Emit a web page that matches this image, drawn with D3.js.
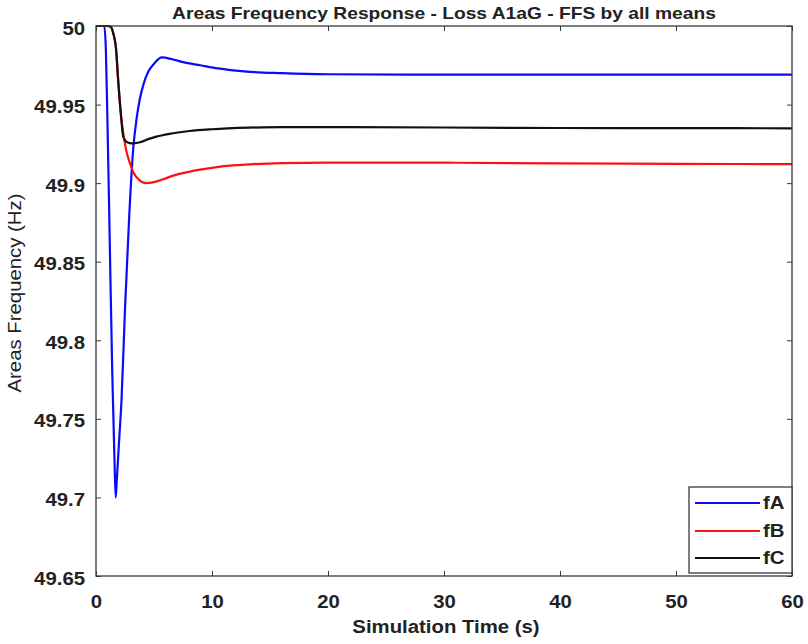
<!DOCTYPE html>
<html>
<head>
<meta charset="utf-8">
<script src="https://cdn.jsdelivr.net/npm/d3@7"></script>
<style>
  html, body { margin: 0; padding: 0; background: #fff; }
  svg text { font-family: "Liberation Sans", Arial, Helvetica, sans-serif; fill: #222; }
</style>
</head>
<body>
<svg id="chart" width="808" height="644"></svg>
<script>
// ---------- data ----------
const chartTitle = "Areas Frequency Response - Loss A1aG - FFS by all means";
const xLabel = "Simulation Time (s)";
const yLabel = "Areas Frequency (Hz)";

const xTickValues = [0, 10, 20, 30, 40, 50, 60];
const xTickLabels = ["0", "10", "20", "30", "40", "50", "60"];
const yTickValues = [49.65, 49.7, 49.75, 49.8, 49.85, 49.9, 49.95, 50];
const yTickLabels = ["49.65", "49.7", "49.75", "49.8", "49.85", "49.9", "49.95", "50"];

const seriesNames = ["fA", "fB", "fC"];
const seriesColors = ["#0a0aff", "#ff1010", "#111111"];

const timeA = [0, 0.72, 0.85, 1.0, 1.2, 1.4, 1.6, 1.7, 1.8, 2.0, 2.2, 2.5, 2.87, 3.21, 3.5, 3.79, 4.1, 4.51, 5.0, 5.68, 6.5, 7.5, 9, 10.5, 13, 16, 20, 30, 40, 50, 60];
const fA =    [50, 50, 49.985, 49.935, 49.857, 49.78, 49.722, 49.700, 49.712, 49.737, 49.762, 49.82, 49.880, 49.922, 49.941, 49.954, 49.963, 49.971, 49.976, 49.980, 49.979, 49.977, 49.975, 49.973, 49.971, 49.970, 49.9693, 49.969, 49.969, 49.969, 49.969];

const timeB = [0, 1.0, 1.27, 1.5, 1.72, 1.92, 2.15, 2.35, 2.6, 2.93, 3.25, 3.7, 4.3, 5.0, 5.8, 6.66, 8, 9.53, 11, 13.26, 16, 20, 30, 40, 50, 60];
const fB =    [50, 50, 49.9995, 49.995, 49.986, 49.9646, 49.9434, 49.932, 49.921, 49.9125, 49.9065, 49.9022, 49.9000, 49.9006, 49.9025, 49.9048, 49.9072, 49.9092, 49.9108, 49.912, 49.9128, 49.9131, 49.913, 49.9126, 49.9123, 49.9121];

const timeC = [0, 1.0, 1.27, 1.5, 1.72, 1.92, 2.15, 2.35, 2.6, 2.9, 3.21, 3.8, 4.5, 5.2, 6.5, 8.06, 10, 13.2, 16, 20, 30, 40, 50, 60];
const fC =    [50, 50, 49.9995, 49.995, 49.986, 49.9646, 49.9434, 49.9295, 49.9265, 49.9255, 49.9253, 49.926, 49.928, 49.9296, 49.9316, 49.9332, 49.9343, 49.9353, 49.9357, 49.9357, 49.9354, 49.9351, 49.935, 49.9349];

const seriesTimes = [timeA, timeB, timeC];
const seriesValues = [fA, fB, fC];

// ---------- layout ----------
const plot = { left: 96, right: 792, top: 26, bottom: 576 };
const textStretch = 1.13;
const svg = d3.select("#chart");

const x = d3.scaleLinear().domain([0, 60]).range([plot.left, plot.right]);
const y = d3.scaleLinear().domain([49.65, 50]).range([plot.bottom, plot.top]);

function stretch(sel) {
  sel.each(function () {
    const w = this.getComputedTextLength();
    if (w > 0) d3.select(this).attr("textLength", w * textStretch).attr("lengthAdjust", "spacingAndGlyphs");
  });
}

svg.append("rect").attr("x", 0).attr("y", 0).attr("width", 808).attr("height", 644).attr("fill", "#fff");

const axisColor = "#3a3a3a";
function styleAxis(g) {
  g.select(".domain").remove();
  g.selectAll(".tick line").attr("stroke", axisColor).attr("stroke-width", 1);
  g.selectAll(".tick text").attr("fill", "#222").style("font-size", "18px").style("font-weight", "bold")
    .style("font-family", '"Liberation Sans", Arial, sans-serif');
}

svg.append("g").attr("transform", `translate(0,${plot.bottom})`)
  .call(d3.axisBottom(x).tickValues(xTickValues).tickFormat((d, i) => xTickLabels[i]).tickSizeInner(-5).tickSizeOuter(0).tickPadding(19))
  .call(styleAxis)
  .selectAll(".tick text").call(stretch);
svg.append("g").attr("transform", `translate(0,${plot.top})`)
  .call(d3.axisTop(x).tickValues(xTickValues).tickFormat("").tickSizeInner(-5).tickSizeOuter(0))
  .call(styleAxis);
svg.append("g").attr("transform", `translate(${plot.left},0)`)
  .call(d3.axisLeft(y).tickValues(yTickValues).tickFormat((d, i) => yTickLabels[i]).tickSizeInner(-5).tickSizeOuter(0).tickPadding(11))
  .call(styleAxis)
  .selectAll(".tick text").attr("dy", "0.45em").call(stretch);
svg.append("g").attr("transform", `translate(${plot.right},0)`)
  .call(d3.axisRight(y).tickValues(yTickValues).tickFormat("").tickSizeInner(-5).tickSizeOuter(0))
  .call(styleAxis);

// lines
const line = d3.line().curve(d3.curveMonotoneX);
svg.append("clipPath").attr("id", "plotclip").append("rect")
  .attr("x", plot.left).attr("y", plot.top - 2).attr("width", plot.right - plot.left).attr("height", plot.bottom - plot.top + 2);

const linesG = svg.append("g").attr("clip-path", "url(#plotclip)");
seriesNames.forEach((name, k) => {
  const pts = seriesTimes[k].map((t, i) => [x(t), y(seriesValues[k][i])]);
  linesG.append("path")
    .attr("d", line(pts))
    .attr("fill", "none")
    .attr("stroke", seriesColors[k])
    .attr("stroke-width", 2.2)
    .attr("stroke-linejoin", "round");
});

// box
svg.append("rect")
  .attr("x", plot.left).attr("y", plot.top)
  .attr("width", plot.right - plot.left).attr("height", plot.bottom - plot.top)
  .attr("fill", "none").attr("stroke", axisColor).attr("stroke-width", 1.3);

// title
svg.append("text")
  .attr("x", 444).attr("y", 19)
  .attr("text-anchor", "middle")
  .style("font-size", "17px").style("font-weight", "bold")
  .text(chartTitle).call(stretch);

// x label
svg.append("text")
  .attr("x", 446).attr("y", 633)
  .attr("text-anchor", "middle")
  .style("font-size", "18px").style("font-weight", "bold")
  .text(xLabel).call(stretch);

// y label
svg.append("text")
  .attr("transform", `translate(21,${(plot.top + plot.bottom) / 2 - 8}) rotate(-90)`)
  .attr("text-anchor", "middle")
  .style("font-size", "18px")
  .text(yLabel).call(stretch);

// legend
const leg = { x: 689, y: 487, w: 103, h: 86 };
const legG = svg.append("g");
legG.append("rect").attr("x", leg.x).attr("y", leg.y).attr("width", leg.w).attr("height", leg.h)
  .attr("fill", "#fff").attr("stroke", axisColor).attr("stroke-width", 1.3);
const legRows = [503, 531, 558];
seriesNames.forEach((name, k) => {
  legG.append("line")
    .attr("x1", 695).attr("x2", 760)
    .attr("y1", legRows[k]).attr("y2", legRows[k])
    .attr("stroke", seriesColors[k]).attr("stroke-width", 2.2);
  legG.append("text")
    .attr("x", 763).attr("y", legRows[k]).attr("dy", "0.36em")
    .style("font-size", "18px").style("font-weight", "bold")
    .text(name).call(stretch);
});
</script>
</body>
</html>
